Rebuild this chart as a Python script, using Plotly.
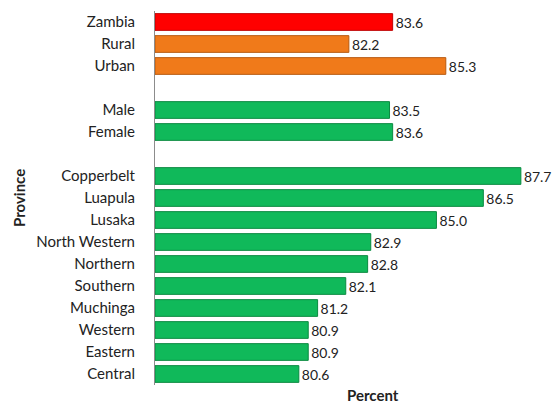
import plotly.graph_objects as go

categories = ["Zambia", "Rural", "Urban", " ", "Male", "Female", "  ",
              "Copperbelt", "Luapula", "Lusaka", "North Western", "Northern",
              "Southern", "Muchinga", "Western", "Eastern", "Central"]
values = [83.6, 82.2, 85.3, None, 83.5, 83.6, None,
          87.7, 86.5, 85.0, 82.9, 82.8, 82.1, 81.2, 80.9, 80.9, 80.6]
groups = ["total", "residence", "residence", None, "sex", "sex", None,
          "province", "province", "province", "province", "province",
          "province", "province", "province", "province", "province"]

BASE = 76
color_map = {"total": "#FF0000", "residence": "#F07A1A", "sex": "#10B95A", "province": "#10B95A"}
line_map = {"total": "#C00000", "residence": "#B85A10", "sex": "#0A8A40", "province": "#0A8A40"}
colors = [color_map.get(g, "rgba(0,0,0,0)") for g in groups]
lines = [line_map.get(g, "rgba(0,0,0,0)") for g in groups]
texts = [f"{v:.1f}" if v is not None else "" for v in values]
lengths = [v - BASE if v is not None else None for v in values]

FONT = "Lato, Open Sans, sans-serif"
L, R, T, B = 155, 15, 11, 18
W, H = 555, 403

fig = go.Figure(go.Bar(
    y=categories, x=lengths, orientation="h", base=BASE,
    marker=dict(color=colors, line=dict(color=lines, width=1)),
    text=texts, textposition="outside", cliponaxis=False,
    textfont=dict(family=FONT, size=15, color="#222"),
    hoverinfo="skip",
))

fig.update_layout(
    width=W, height=H,
    margin=dict(l=L, r=R, t=T, b=B, autoexpand=False),
    paper_bgcolor="white", plot_bgcolor="white",
    bargap=0.24, showlegend=False,
    font=dict(family=FONT, size=15, color="#222"),
    xaxis=dict(range=[BASE, BASE + (W - L - R) / 31.27], showgrid=False, showticklabels=False,
               zeroline=False, showline=False, ticks="", automargin=False),
    yaxis=dict(autorange="reversed", showgrid=False, showline=True,
               linecolor="#8c8c8c", linewidth=1, ticks="", automargin=False,
               ticklabelstandoff=16, tickfont=dict(size=15)),
    annotations=[
        dict(text="<b>Percent</b>", x=(373 - L) / (W - L - R), y=-(395 - (H - B)) / (H - T - B),
             xref="paper", yref="paper", showarrow=False, yanchor="middle",
             font=dict(size=15, family=FONT)),
        dict(text="<b>Province</b>", x=-(155 - 19) / (W - L - R), y=0.5, textangle=-90,
             xref="paper", yref="paper", showarrow=False, xanchor="center",
             font=dict(size=15, family=FONT)),
    ],
)

fig.write_html("out.html", config={"displayModeBar": False},
               post_script="document.body.style.margin='0';document.body.style.overflow='hidden';")
